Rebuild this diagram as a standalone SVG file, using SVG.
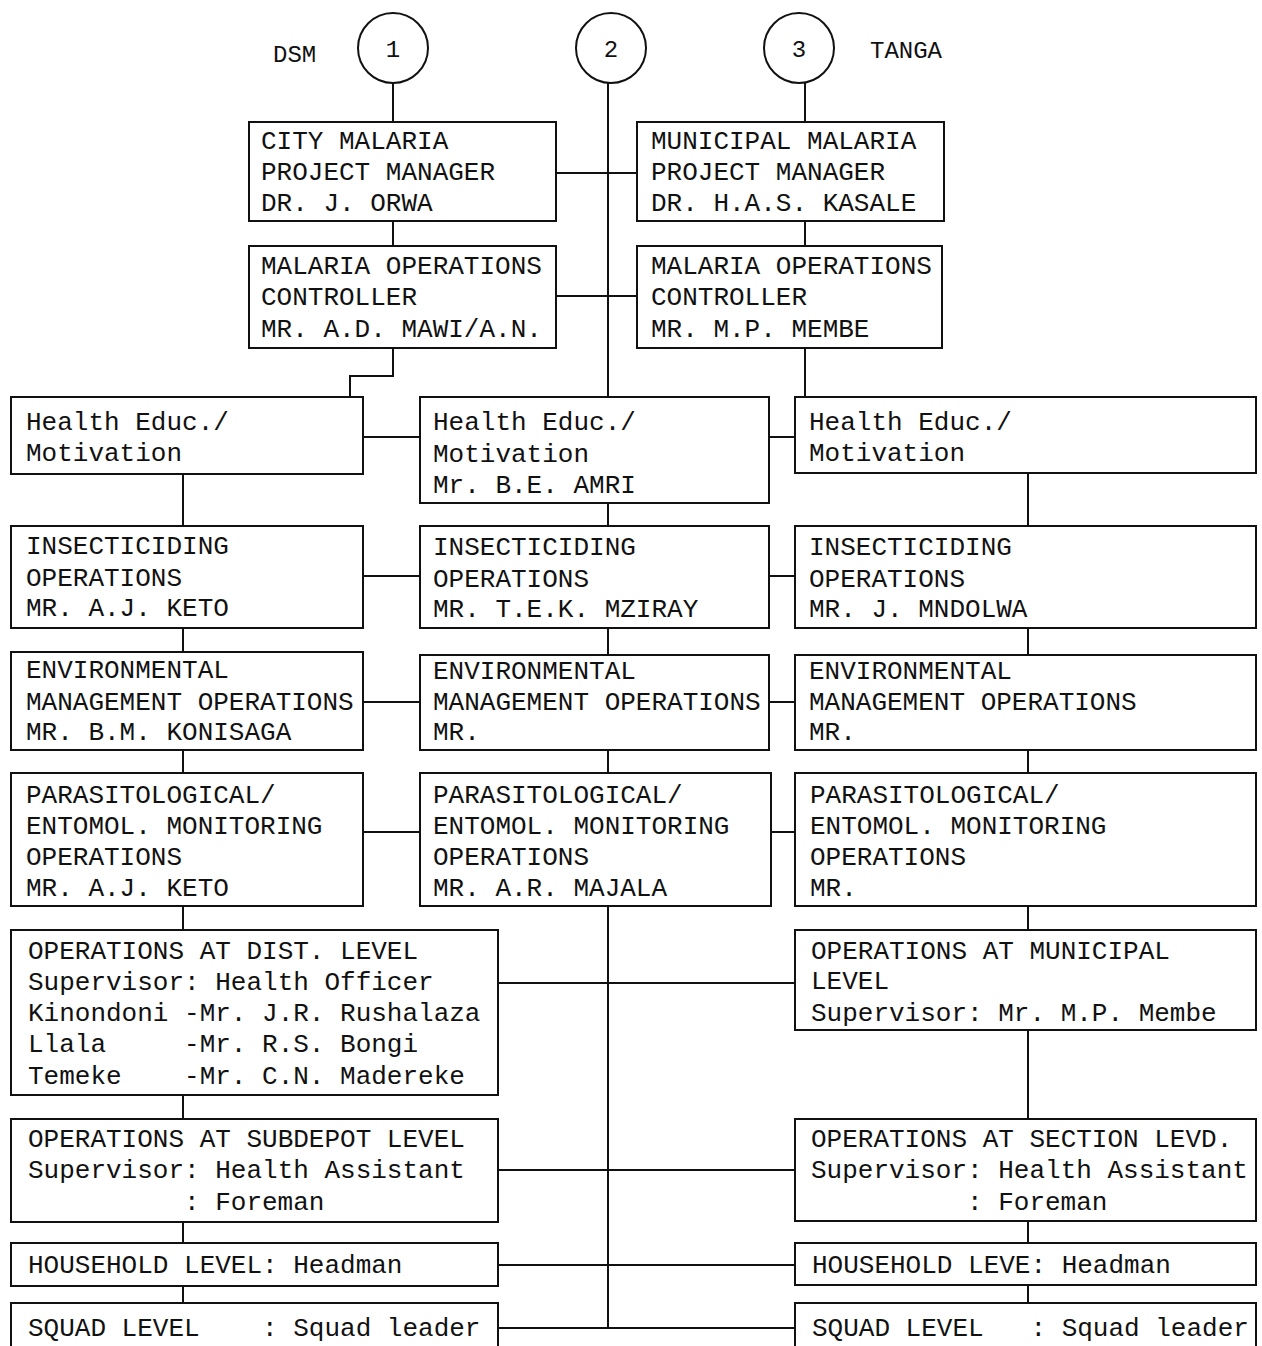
<svg xmlns="http://www.w3.org/2000/svg" width="1262" height="1346" viewBox="0 0 1262 1346">
<style>
.bg{fill:#fff}
.box{fill:#fff;stroke:#111;stroke-width:2}
.ln{fill:none;stroke:#111;stroke-width:2}
.t{font-family:"Liberation Mono","DejaVu Sans Mono",monospace;font-size:26px;fill:#111;white-space:pre}
.c{font-family:"Liberation Mono","DejaVu Sans Mono",monospace;font-size:24px;fill:#111}
</style>
<rect class="bg" x="0" y="0" width="1262" height="1346"/>
<g id="connectors">
<line class="ln" x1="393" y1="82" x2="393" y2="246"/>
<line class="ln" x1="608" y1="82" x2="608" y2="1328"/>
<line class="ln" x1="805" y1="82" x2="805" y2="397"/>
<line class="ln" x1="556" y1="173" x2="637" y2="173"/>
<line class="ln" x1="556" y1="296" x2="637" y2="296"/>
<polyline class="ln" points="393,348 393,376 350,376 350,397"/>
<line class="ln" x1="183" y1="474" x2="183" y2="1303"/>
<line class="ln" x1="1028" y1="473" x2="1028" y2="1303"/>
<line class="ln" x1="363" y1="437" x2="420" y2="437"/>
<line class="ln" x1="769" y1="437" x2="795" y2="437"/>
<line class="ln" x1="363" y1="576" x2="420" y2="576"/>
<line class="ln" x1="769" y1="576" x2="795" y2="576"/>
<line class="ln" x1="363" y1="702" x2="420" y2="702"/>
<line class="ln" x1="769" y1="702" x2="795" y2="702"/>
<line class="ln" x1="363" y1="832" x2="420" y2="832"/>
<line class="ln" x1="771" y1="832" x2="795" y2="832"/>
<line class="ln" x1="498" y1="983" x2="795" y2="983"/>
<line class="ln" x1="498" y1="1170" x2="795" y2="1170"/>
<line class="ln" x1="498" y1="1265" x2="795" y2="1265"/>
<line class="ln" x1="498" y1="1328" x2="795" y2="1328"/>
</g>
<g id="c1"><circle class="box" cx="393" cy="48" r="35"/><text class="c" x="393" y="57" text-anchor="middle">1</text></g>
<g id="c2"><circle class="box" cx="611" cy="48" r="35"/><text class="c" x="611" y="57" text-anchor="middle">2</text></g>
<g id="c3"><circle class="box" cx="799" cy="48" r="35"/><text class="c" x="799" y="57" text-anchor="middle">3</text></g>
<g id="lbl-dsm"><text class="c" x="273" y="62">DSM</text></g>
<g id="lbl-tanga"><text class="c" x="870" y="58">TANGA</text></g>
<g id="n-city"><rect class="box" x="249" y="122" width="307" height="99"/>
<text class="t" x="261" y="149">CITY MALARIA</text><text class="t" x="261" y="180">PROJECT MANAGER</text><text class="t" x="261" y="211">DR. J. ORWA</text></g>
<g id="n-muni"><rect class="box" x="637" y="122" width="307" height="99"/>
<text class="t" x="651" y="149">MUNICIPAL MALARIA</text><text class="t" x="651" y="180">PROJECT MANAGER</text><text class="t" x="651" y="211">DR. H.A.S. KASALE</text></g>
<g id="n-moc1"><rect class="box" x="249" y="246" width="307" height="102"/>
<text class="t" x="261" y="274">MALARIA OPERATIONS</text><text class="t" x="261" y="305">CONTROLLER</text><text class="t" x="261" y="337">MR. A.D. MAWI/A.N.</text></g>
<g id="n-moc3"><rect class="box" x="637" y="246" width="305" height="102"/>
<text class="t" x="651" y="274">MALARIA OPERATIONS</text><text class="t" x="651" y="305">CONTROLLER</text><text class="t" x="651" y="337">MR. M.P. MEMBE</text></g>
<g id="n-he1"><rect class="box" x="11" y="397" width="352" height="77"/>
<text class="t" x="26" y="430">Health Educ./</text><text class="t" x="26" y="461">Motivation</text></g>
<g id="n-he2"><rect class="box" x="420" y="397" width="349" height="106"/>
<text class="t" x="433" y="430">Health Educ./</text><text class="t" x="433" y="462">Motivation</text><text class="t" x="433" y="493">Mr. B.E. AMRI</text></g>
<g id="n-he3"><rect class="box" x="795" y="397" width="461" height="76"/>
<text class="t" x="809" y="430">Health Educ./</text><text class="t" x="809" y="461">Motivation</text></g>
<g id="n-ins1"><rect class="box" x="11" y="526" width="352" height="102"/>
<text class="t" x="26" y="554">INSECTICIDING</text><text class="t" x="26" y="586">OPERATIONS</text><text class="t" x="26" y="616">MR. A.J. KETO</text></g>
<g id="n-ins2"><rect class="box" x="420" y="526" width="349" height="102"/>
<text class="t" x="433" y="555">INSECTICIDING</text><text class="t" x="433" y="587">OPERATIONS</text><text class="t" x="433" y="617">MR. T.E.K. MZIRAY</text></g>
<g id="n-ins3"><rect class="box" x="795" y="526" width="461" height="102"/>
<text class="t" x="809" y="555">INSECTICIDING</text><text class="t" x="809" y="587">OPERATIONS</text><text class="t" x="809" y="617">MR. J. MNDOLWA</text></g>
<g id="n-env1"><rect class="box" x="11" y="652" width="352" height="98"/>
<text class="t" x="26" y="678">ENVIRONMENTAL</text><text class="t" x="26" y="710">MANAGEMENT OPERATIONS</text><text class="t" x="26" y="740">MR. B.M. KONISAGA</text></g>
<g id="n-env2"><rect class="box" x="420" y="655" width="349" height="95"/>
<text class="t" x="433" y="679">ENVIRONMENTAL</text><text class="t" x="433" y="710">MANAGEMENT OPERATIONS</text><text class="t" x="433" y="740">MR.</text></g>
<g id="n-env3"><rect class="box" x="795" y="655" width="461" height="95"/>
<text class="t" x="809" y="679">ENVIRONMENTAL</text><text class="t" x="809" y="710">MANAGEMENT OPERATIONS</text><text class="t" x="809" y="740">MR.</text></g>
<g id="n-par1"><rect class="box" x="11" y="773" width="352" height="133"/>
<text class="t" x="26" y="803">PARASITOLOGICAL/</text><text class="t" x="26" y="834">ENTOMOL. MONITORING</text><text class="t" x="26" y="865">OPERATIONS</text><text class="t" x="26" y="896">MR. A.J. KETO</text></g>
<g id="n-par2"><rect class="box" x="420" y="773" width="351" height="133"/>
<text class="t" x="433" y="803">PARASITOLOGICAL/</text><text class="t" x="433" y="834">ENTOMOL. MONITORING</text><text class="t" x="433" y="865">OPERATIONS</text><text class="t" x="433" y="896">MR. A.R. MAJALA</text></g>
<g id="n-par3"><rect class="box" x="795" y="773" width="461" height="133"/>
<text class="t" x="810" y="803">PARASITOLOGICAL/</text><text class="t" x="810" y="834">ENTOMOL. MONITORING</text><text class="t" x="810" y="865">OPERATIONS</text><text class="t" x="810" y="896">MR.</text></g>
<g id="n-dist"><rect class="box" x="11" y="930" width="487" height="165"/>
<text class="t" x="28" y="959">OPERATIONS AT DIST. LEVEL</text><text class="t" x="28" y="990">Supervisor: Health Officer</text><text class="t" x="28" y="1021">Kinondoni -Mr. J.R. Rushalaza</text><text class="t" x="28" y="1052">Llala&#160;&#160;&#160;&#160;&#160;-Mr. R.S. Bongi</text><text class="t" x="28" y="1084">Temeke&#160;&#160;&#160;&#160;-Mr. C.N. Madereke</text></g>
<g id="n-munlev"><rect class="box" x="795" y="930" width="461" height="100"/>
<text class="t" x="811" y="959">OPERATIONS AT MUNICIPAL</text><text class="t" x="811" y="989">LEVEL</text><text class="t" x="811" y="1021">Supervisor: Mr. M.P. Membe</text></g>
<g id="n-subdepot"><rect class="box" x="11" y="1119" width="487" height="103"/>
<text class="t" x="28" y="1147">OPERATIONS AT SUBDEPOT LEVEL</text><text class="t" x="28" y="1178">Supervisor: Health Assistant</text><text class="t" x="184" y="1210">: Foreman</text></g>
<g id="n-section"><rect class="box" x="795" y="1119" width="461" height="102"/>
<text class="t" x="811" y="1147">OPERATIONS AT SECTION LEVD.</text><text class="t" x="811" y="1178">Supervisor: Health Assistant</text><text class="t" x="967" y="1210">: Foreman</text></g>
<g id="n-house1"><rect class="box" x="11" y="1243" width="487" height="43"/>
<text class="t" x="28" y="1273">HOUSEHOLD LEVEL: Headman</text></g>
<g id="n-house3"><rect class="box" x="795" y="1243" width="461" height="42"/>
<text class="t" x="812" y="1273">HOUSEHOLD LEVE: Headman</text></g>
<g id="n-squad1"><rect class="box" x="11" y="1303" width="487" height="60"/>
<text class="t" x="28" y="1336">SQUAD LEVEL&#160;&#160;&#160;&#160;: Squad leader</text></g>
<g id="n-squad3"><rect class="box" x="795" y="1303" width="461" height="60"/>
<text class="t" x="812" y="1336">SQUAD LEVEL&#160;&#160;&#160;: Squad leader</text></g>
</svg>
